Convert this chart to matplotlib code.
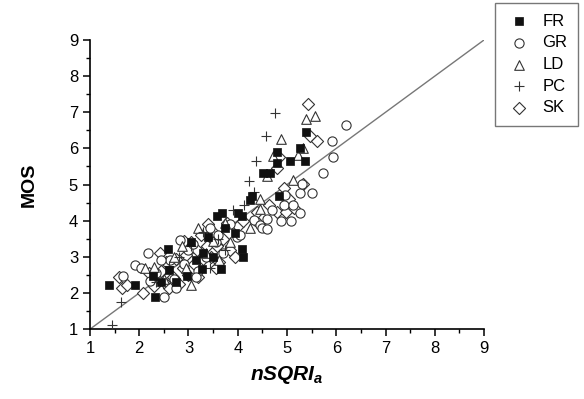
import matplotlib
matplotlib.use("Agg")
import matplotlib.pyplot as plt
from matplotlib.ticker import MultipleLocator

plt.rcParams['font.family'] = ['Liberation Sans', 'DejaVu Sans']
plt.rcParams['mathtext.fontset'] = 'custom'
plt.rcParams['mathtext.it'] = 'Liberation Sans:italic:bold'
plt.rcParams['mathtext.rm'] = 'Liberation Sans:bold'

FR_x = [1.39, 1.91, 2.33, 2.27, 2.58, 2.61, 2.75, 2.96, 3.05, 3.28, 3.30, 3.40, 3.50, 3.65, 3.57, 3.67, 3.75, 3.94, 4.01, 4.08, 4.09, 4.11, 4.25, 4.28, 4.52, 4.65, 4.79, 4.79, 4.84, 5.07, 5.26, 5.37, 5.38, 3.15, 2.45]
FR_y = [2.21, 2.21, 1.88, 2.46, 3.21, 2.64, 2.30, 2.46, 3.40, 2.66, 3.10, 3.55, 3.00, 2.66, 4.12, 4.21, 3.80, 3.65, 4.21, 4.12, 3.21, 2.99, 4.58, 4.67, 5.33, 5.33, 5.91, 5.59, 4.67, 5.66, 6.00, 5.66, 6.45, 2.90, 2.30]

GR_x = [1.68, 1.91, 2.04, 2.18, 2.22, 2.51, 2.35, 2.62, 2.70, 2.83, 2.90, 3.00, 3.10, 3.20, 3.35, 3.44, 3.55, 3.70, 3.85, 3.98, 4.05, 4.32, 4.45, 4.50, 4.59, 4.59, 4.70, 4.88, 4.93, 4.96, 5.08, 5.13, 5.26, 5.26, 5.31, 5.51, 5.74, 5.91, 5.94, 6.19, 2.45, 2.75, 3.15, 3.60]
GR_y = [2.46, 2.78, 2.69, 3.10, 2.32, 1.88, 2.55, 2.92, 2.40, 3.47, 2.80, 3.20, 3.35, 2.60, 3.00, 3.79, 3.40, 3.10, 3.90, 3.56, 3.60, 4.02, 3.88, 3.79, 3.76, 4.04, 4.30, 4.00, 4.44, 4.71, 4.00, 4.44, 4.21, 4.76, 5.02, 4.76, 5.33, 6.21, 5.77, 6.66, 2.90, 2.15, 2.45, 3.60]

LD_x = [2.12, 2.29, 2.50, 2.70, 2.86, 3.06, 3.20, 3.35, 3.50, 3.62, 3.85, 4.25, 4.45, 4.45, 4.59, 4.72, 4.88, 5.13, 5.23, 5.33, 5.38, 5.56, 2.95, 3.75]
LD_y = [2.69, 2.73, 2.40, 3.00, 3.29, 2.23, 3.79, 3.10, 3.45, 2.90, 3.40, 3.79, 4.32, 4.59, 5.24, 5.79, 6.25, 5.13, 5.82, 6.02, 6.81, 6.90, 2.70, 3.95]

PC_x = [1.44, 1.64, 2.35, 2.80, 3.05, 3.30, 3.44, 3.60, 3.90, 4.13, 4.23, 4.32, 4.38, 4.57, 4.75, 3.75, 2.60]
PC_y = [1.11, 1.76, 2.30, 3.00, 3.30, 3.70, 2.69, 3.50, 4.30, 4.44, 5.10, 4.78, 5.66, 6.33, 6.99, 3.20, 2.75]

SK_x = [1.59, 1.66, 1.76, 2.08, 2.30, 2.42, 2.45, 2.55, 2.60, 2.68, 2.75, 2.80, 2.88, 2.95, 3.00, 3.05, 3.12, 3.18, 3.25, 3.30, 3.38, 3.45, 3.50, 3.58, 3.62, 3.70, 3.78, 3.85, 3.94, 4.00, 4.10, 4.35, 4.40, 4.64, 4.79, 4.79, 4.84, 4.94, 4.98, 5.05, 5.15, 5.32, 5.43, 5.47, 5.61, 2.20, 2.90, 3.20, 3.55, 3.40, 2.50]
SK_y = [2.43, 2.13, 2.23, 2.00, 2.20, 3.10, 2.60, 2.85, 2.15, 2.45, 2.95, 2.25, 2.70, 3.05, 2.50, 3.40, 2.80, 3.20, 3.60, 2.95, 3.30, 3.00, 3.70, 3.30, 2.85, 3.50, 3.95, 3.20, 2.99, 3.85, 4.00, 4.02, 4.25, 4.44, 4.23, 5.45, 5.76, 4.90, 4.23, 4.60, 4.35, 5.02, 7.22, 6.33, 6.21, 2.55, 3.45, 2.45, 2.70, 3.90, 2.30]

fit_line = [1, 9]

fig = plt.figure(figsize=(5.84, 3.99), dpi=100)
ax = fig.add_axes([0.154, 0.175, 0.675, 0.725])

ax.plot(fit_line, fit_line, color='#777777', lw=1.0, zorder=1)
ax.scatter(SK_x, SK_y, marker='D', s=38, facecolor='white', edgecolor='#333333', linewidths=0.8, label='SK', zorder=2)
ax.scatter(GR_x, GR_y, marker='o', s=44, facecolor='white', edgecolor='#333333', linewidths=0.8, label='GR', zorder=2)
ax.scatter(LD_x, LD_y, marker='^', s=48, facecolor='white', edgecolor='#333333', linewidths=0.8, label='LD', zorder=2)
ax.scatter(PC_x, PC_y, marker='+', s=44, color='#333333', linewidths=0.8, label='PC', zorder=3)
ax.scatter(FR_x, FR_y, marker='s', s=40, facecolor='#111111', edgecolor='#111111', linewidths=0.5, label='FR', zorder=3)

ax.set_xlim(1, 9)
ax.set_ylim(1, 9)
ax.xaxis.set_major_locator(MultipleLocator(1))
ax.yaxis.set_major_locator(MultipleLocator(1))
ax.xaxis.set_minor_locator(MultipleLocator(0.5))
ax.yaxis.set_minor_locator(MultipleLocator(0.5))
for s in ['top', 'right']:
    ax.spines[s].set_visible(False)
for s in ['left', 'bottom']:
    ax.spines[s].set_linewidth(1.2)
ax.tick_params(which='major', direction='out', length=5, width=1.1, labelsize=12, colors='black')
ax.tick_params(which='minor', direction='out', length=3, width=1.0)

ax.set_xlabel(r'$nSQRI_a$', fontsize=15, labelpad=6)
ax.set_ylabel('MOS', fontsize=14, fontweight='bold', labelpad=22)

handles, labels = ax.get_legend_handles_labels()
order = ['FR', 'GR', 'LD', 'PC', 'SK']
hmap = dict(zip(labels, handles))
leg = fig.legend([hmap[k] for k in order], order, loc='upper right',
                 bbox_to_anchor=(0.99, 0.993), fontsize=12, frameon=True,
                 fancybox=False, edgecolor='#555555', borderpad=0.65,
                 labelspacing=0.4, handletextpad=0.6, handlelength=1.6,
                 borderaxespad=0)
leg.get_frame().set_linewidth(1.0)

fig.savefig('out.png', dpi=100)
